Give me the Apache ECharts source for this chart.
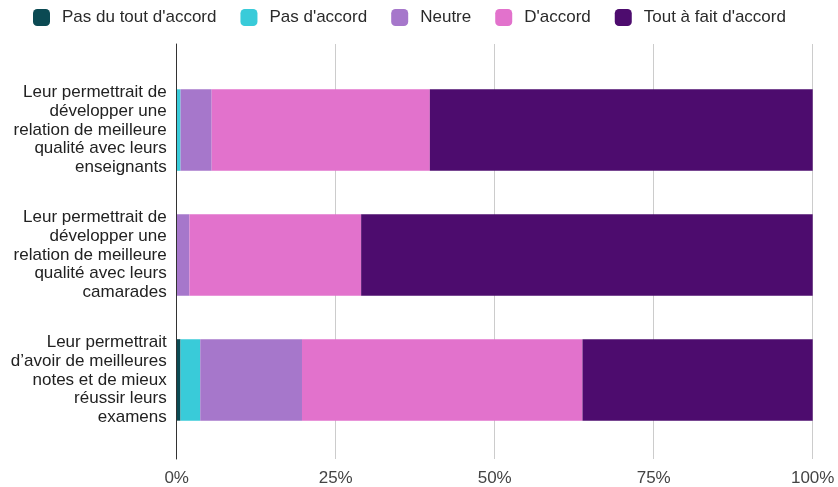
<!DOCTYPE html>
<html>
<head>
<meta charset="utf-8">
<script src="https://cdn.jsdelivr.net/npm/echarts@6/dist/echarts.min.js"></script>
<style>html,body{margin:0;padding:0;background:#fff}#c{width:838px;height:487px}</style>
</head>
<body>
<div id="c"></div>
<script>
const categories = [
  "Leur permettrait de\ndévelopper une\nrelation de meilleure\nqualité avec leurs\nenseignants",
  "Leur permettrait de\ndévelopper une\nrelation de meilleure\nqualité avec leurs\ncamarades",
  "Leur permettrait\nd\u2019avoir de meilleures\nnotes et de mieux\nréussir leurs\nexamens"
];
const seriesNames = ["Pas du tout d'accord", "Pas d'accord", "Neutre", "D'accord", "Tout à fait d'accord"];
const pasDuTout = [0, 0, 0.6];
const pasDaccord = [0.6, 0, 3.1];
const neutre = [4.9, 2.0, 16.0];
const daccord = [34.3, 27.0, 44.1];
const toutAFait = [60.2, 71.0, 36.2];
const tickValues = [0, 25, 50, 75, 100];
const colors = ["#0b4a53", "#39cbd9", "#a677cb", "#e272cc", "#4d0c6e"];

const values = [pasDuTout, pasDaccord, neutre, daccord, toutAFait];
const font = '"Liberation Sans", Arial, sans-serif';
const chart = echarts.init(document.getElementById('c'));
chart.setOption({
  animation: false,
  color: colors,
  textStyle: { fontFamily: font },
  legend: {
    top: 4, left: 28,
    itemWidth: 17, itemHeight: 17, itemGap: 24,
    icon: 'roundRect',
    textStyle: { fontSize: 17, color: '#2a2a2a', fontFamily: font, padding: [0, 0, 0, 7] },
    data: seriesNames
  },
  grid: [
    { left: 176.7, right: 25.3, top: 44, bottom: 24 },
    { left: 176.7, right: 25.3, top: 67.6, bottom: 44.6 }
  ],
  xAxis: [
    {
      gridIndex: 0, type: 'value', min: tickValues[0], max: tickValues[tickValues.length - 1], interval: 25,
      axisLine: { show: false }, axisTick: { show: false },
      axisLabel: { formatter: '{value}%', fontSize: 17, color: '#444', margin: 11, fontFamily: font },
      splitLine: { lineStyle: { color: '#cccccc', width: 1 } }
    },
    {
      gridIndex: 1, type: 'value', min: 0, max: 100, show: false
    }
  ],
  yAxis: [
    {
      gridIndex: 0, type: 'value', z: 10,
      axisLine: { show: true, lineStyle: { color: '#333', width: 1 } },
      axisTick: { show: false }, axisLabel: { show: false }, splitLine: { show: false }
    },
    {
      gridIndex: 1, type: 'category', inverse: true, data: categories,
      axisLine: { show: false }, axisTick: { show: false },
      axisLabel: { fontSize: 17, color: '#222', lineHeight: 18.7, align: 'right', margin: 10, fontFamily: font }
    }
  ],
  series: seriesNames.map((name, i) => ({
    name: name, type: 'bar', stack: 'total',
    xAxisIndex: 1, yAxisIndex: 1,
    barWidth: 81.5,
    data: values[i]
  }))
});
</script>
</body>
</html>
